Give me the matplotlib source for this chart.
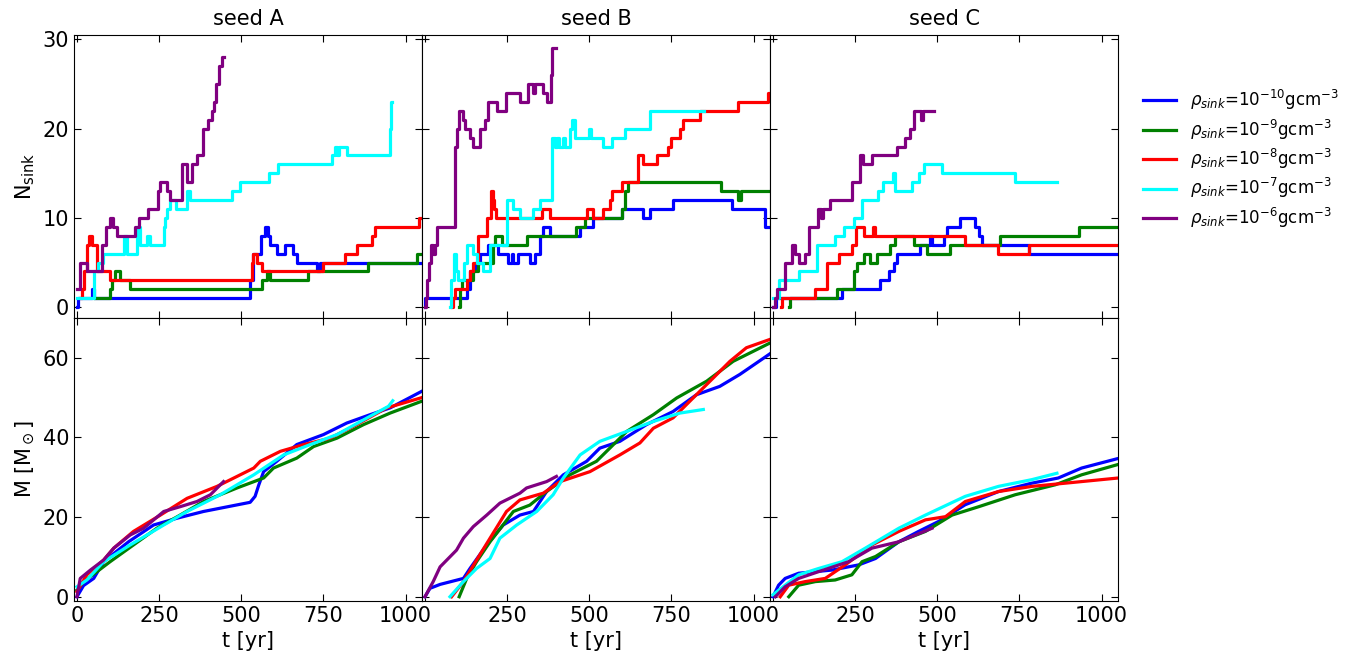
import numpy as np
import matplotlib.pyplot as plt

# number of sink particles vs time, (t [yr], N) pairs, step-wise
nsink_A_10 = [(0, 0), (3, 1), (46, 2), (53, 1), (527, 3), (537, 6), (560, 8), (573, 9), (580, 8), (588, 7),
              (610, 6), (634, 7), (657, 6), (669, 5), (730, 4), (740, 5), (1050, 5)]
nsink_A_9 = [(56, 1), (101, 2), (106, 3), (117, 4), (132, 3), (160, 2), (563, 3), (578, 4), (588, 3), (702, 4),
             (887, 5), (1034, 6), (1050, 6)]
nsink_A_8 = [(10, 1), (14, 2), (20, 4), (32, 7), (38, 8), (46, 7), (61, 4), (99, 3), (532, 5), (537, 6),
             (548, 5), (563, 4), (750, 5), (816, 6), (852, 7), (897, 8), (907, 9), (1042, 10), (1050, 10)]
nsink_A_7 = [(0, 1), (53, 4), (65, 5), (80, 6), (142, 8), (152, 6), (183, 9), (193, 7), (213, 8), (223, 7),
             (264, 9), (269, 10), (274, 11), (284, 12), (302, 11), (335, 13), (345, 12), (472, 13), (497, 14),
             (583, 15), (613, 16), (776, 17), (786, 18), (791, 17), (796, 18), (822, 17), (953, 20), (956, 23),
             (960, 23)]
nsink_A_6 = [(0, 2), (8, 5), (30, 4), (76, 7), (89, 9), (101, 10), (110, 9), (122, 8), (178, 9), (190, 10),
             (216, 11), (248, 13), (254, 14), (274, 13), (284, 12), (320, 16), (335, 14), (350, 16), (365, 17),
             (385, 20), (400, 21), (410, 22), (418, 23), (424, 25), (431, 27), (441, 28), (446, 28)]

nsink_B_10 = [(0, 0), (1, 1), (127, 2), (137, 4), (152, 5), (167, 6), (193, 7), (223, 6), (254, 5), (264, 6),
              (269, 5), (284, 6), (319, 5), (335, 6), (350, 8), (360, 9), (380, 8), (472, 9), (512, 10),
              (598, 11), (664, 10), (685, 11), (755, 12), (933, 11), (1035, 9), (1050, 9)]
nsink_B_9 = [(104, 0), (106, 2), (112, 3), (147, 4), (162, 5), (208, 7), (213, 8), (233, 7), (309, 8), (461, 9),
             (487, 10), (598, 11), (608, 13), (619, 14), (902, 13), (953, 12), (963, 13), (1050, 13)]
nsink_B_8 = [(81, 0), (86, 1), (91, 2), (127, 3), (137, 4), (147, 5), (162, 8), (188, 10), (200, 13), (206, 12),
             (210, 11), (216, 10), (355, 11), (380, 10), (492, 11), (512, 10), (542, 11), (563, 12), (568, 13),
             (598, 14), (649, 17), (664, 16), (705, 17), (740, 18), (750, 19), (776, 20), (786, 21), (837, 22),
             (953, 23), (1045, 24), (1050, 24)]
nsink_B_7 = [(76, 0), (80, 3), (87, 6), (93, 4), (100, 3), (118, 5), (127, 7), (147, 6), (157, 5), (177, 4),
             (198, 7), (250, 12), (269, 11), (289, 10), (330, 11), (350, 12), (385, 19), (395, 18), (401, 19),
             (407, 18), (419, 19), (425, 18), (441, 20), (446, 21), (456, 19), (500, 20), (505, 19), (543, 18),
             (568, 19), (609, 20), (685, 22), (850, 22)]
nsink_B_6 = [(0, 0), (2, 1), (6, 3), (12, 5), (18, 7), (25, 6), (30, 7), (36, 9), (91, 18), (97, 20), (104, 22),
             (115, 21), (122, 20), (137, 19), (147, 18), (167, 20), (182, 21), (193, 23), (218, 22), (246, 24),
             (289, 23), (314, 25), (330, 24), (335, 25), (360, 24), (370, 23), (382, 26), (386, 29), (400, 29)]

nsink_C_10 = [(0, 0), (8, 1), (210, 2), (327, 3), (352, 4), (367, 5), (377, 6), (448, 7), (479, 8), (484, 7),
              (519, 8), (529, 9), (570, 10), (616, 9), (626, 8), (636, 7), (778, 6), (1050, 6)]
nsink_C_9 = [(50, 0), (52, 1), (195, 2), (245, 4), (255, 5), (276, 6), (296, 5), (316, 6), (357, 7), (372, 8),
             (428, 7), (469, 6), (539, 7), (691, 8), (930, 9), (1050, 9)]
nsink_C_8 = [(24, 0), (27, 1), (129, 2), (164, 5), (200, 6), (240, 7), (252, 9), (276, 8), (303, 9), (309, 8),
             (585, 7), (686, 6), (778, 7), (1050, 7)]
nsink_C_7 = [(0, 1), (18, 3), (79, 4), (134, 7), (190, 8), (215, 9), (246, 10), (271, 12), (321, 13), (336, 14),
             (365, 15), (372, 13), (423, 14), (443, 15), (458, 16), (514, 15), (737, 14), (864, 14)]
nsink_C_6 = [(0, 0), (5, 1), (12, 2), (38, 5), (58, 7), (66, 6), (78, 5), (96, 6), (110, 9), (137, 11),
             (146, 10), (152, 11), (174, 12), (240, 14), (266, 17), (275, 16), (301, 17), (377, 18), (403, 19),
             (418, 20), (428, 22), (451, 21), (456, 22), (489, 22)]

# total sink mass vs time, (t [yr], M [Msun]) pairs
mass_A_10 = [(0, 0), (20, 2.8), (51, 4.6), (81, 8.8), (157, 13.8), (233, 18), (304, 19.7), (385, 21.4),
             (527, 23.7), (542, 25.2), (553, 28), (568, 31.4), (608, 34), (669, 38.2), (750, 40.7), (821, 43.6),
             (892, 45.7), (953, 47.4), (1050, 51.6)]
mass_A_9 = [(0, 1.7), (20, 3.8), (61, 6.3), (101, 8.8), (172, 13), (243, 17.2), (314, 20.5), (385, 23.9),
            (487, 27.3), (568, 29.8), (598, 32.3), (669, 34.8), (720, 37.7), (791, 39.8), (872, 43.2),
            (953, 46.1), (1050, 49.1)]
mass_A_8 = [(0, 1.3), (30, 5.5), (81, 9.2), (112, 12.2), (172, 16.4), (254, 20.5), (335, 24.7), (426, 27.7),
            (487, 30.2), (538, 32.3), (558, 34), (619, 36.5), (690, 38.2), (770, 39.8), (842, 42.8), (943, 47.4),
            (1050, 50)]
mass_A_7 = [(0, 2.5), (30, 4.2), (81, 8.8), (162, 13), (264, 18), (335, 21.4), (436, 25.6), (538, 30.6),
            (629, 35.6), (710, 38.2), (791, 40.7), (892, 45.3), (948, 47.8), (961, 49.2)]
mass_A_6 = [(0, 0), (10, 4.6), (41, 6.7), (81, 9.2), (112, 12.2), (162, 15.5), (203, 17.2), (264, 21.4),
            (314, 22.6), (365, 23.9), (406, 25.6), (446, 28.9)]

mass_B_10 = [(0, 0), (15, 2.1), (46, 3.1), (117, 4.6), (137, 7.1), (188, 13), (238, 18), (289, 20.5),
             (330, 21.4), (370, 26.4), (421, 30.6), (492, 34), (532, 37.3), (593, 39), (674, 43.2),
             (755, 46.5), (826, 50.7), (897, 52.8), (958, 55.8), (1050, 61)]
mass_B_9 = [(104, 0), (127, 4.6), (157, 8.8), (198, 13.8), (269, 21.4), (319, 23), (370, 26.4), (441, 30.6),
            (522, 34), (614, 41.5), (695, 45.7), (766, 49.9), (857, 54.1), (938, 59.1), (1050, 63.7)]
mass_B_8 = [(81, 0), (117, 3.8), (157, 9.2), (198, 14.7), (248, 21.4), (289, 24.3), (360, 26), (411, 28.9),
            (502, 31.4), (593, 35.6), (654, 38.6), (695, 42.3), (755, 44.9), (816, 49.9), (877, 54.9),
            (928, 59.1), (978, 62.5), (1050, 64.6)]
mass_B_7 = [(76, 0), (117, 3.8), (157, 7.1), (198, 9.6), (228, 14.7), (279, 18), (340, 21.4), (390, 25.6),
            (421, 29.8), (472, 35.6), (532, 39), (614, 41.5), (695, 44), (776, 46.1), (847, 47)]
mass_B_6 = [(0, 0), (25, 3.8), (46, 7.5), (96, 11.7), (117, 14.7), (147, 17.6), (188, 20.5), (228, 23.5),
            (289, 26), (309, 27.3), (370, 28.9), (400, 30.2)]

mass_C_10 = [(0, 0), (17, 2.9), (37, 4.6), (78, 5.9), (129, 6.3), (180, 6.7), (261, 8), (312, 9.6),
             (383, 13.8), (443, 16.4), (504, 18.9), (585, 23.1), (686, 26.4), (787, 28.5), (868, 29.8),
             (939, 32.3), (1050, 34.7)]
mass_C_9 = [(48, 0), (78, 2.9), (129, 3.8), (189, 4.2), (240, 5.5), (271, 8.8), (312, 10.1), (383, 13.8),
            (464, 16.4), (545, 20.5), (626, 22.6), (737, 25.6), (859, 28.1), (939, 30.6), (1050, 33.2)]
mass_C_8 = [(22, 0), (48, 2.9), (98, 3.8), (159, 4.6), (220, 8), (301, 13), (383, 16.4), (464, 19.3),
            (525, 20.1), (585, 23.9), (686, 26.4), (788, 27.7), (889, 28.5), (1050, 29.8)]
mass_C_7 = [(0, 0.5), (37, 2.9), (78, 5.5), (139, 7.1), (210, 8.8), (281, 12.2), (383, 17.2), (464, 20.5),
            (585, 25.2), (686, 27.7), (788, 29.4), (864, 31)]
mass_C_6 = [(7, 0), (37, 2.5), (78, 4.6), (139, 6.3), (230, 8.8), (301, 12.2), (383, 13.8), (484, 17.2)]

seeds = ['A', 'B', 'C']
exponents = [-10, -9, -8, -7, -6]
colors = ['blue', 'green', 'red', 'cyan', 'purple']

nsink = {
    'A': [nsink_A_10, nsink_A_9, nsink_A_8, nsink_A_7, nsink_A_6],
    'B': [nsink_B_10, nsink_B_9, nsink_B_8, nsink_B_7, nsink_B_6],
    'C': [nsink_C_10, nsink_C_9, nsink_C_8, nsink_C_7, nsink_C_6],
}
mass = {
    'A': [mass_A_10, mass_A_9, mass_A_8, mass_A_7, mass_A_6],
    'B': [mass_B_10, mass_B_9, mass_B_8, mass_B_7, mass_B_6],
    'C': [mass_C_10, mass_C_9, mass_C_8, mass_C_7, mass_C_6],
}

plt.rcParams['font.size'] = 15
fig, axes = plt.subplots(2, 3, figsize=(13.68, 6.64), dpi=100, sharex=True, sharey='row')
fig.subplots_adjust(left=0.0541, right=0.8173, top=0.9473, bottom=0.0953, wspace=0, hspace=0)

lines = []
for j, s in enumerate(seeds):
    ax_n = axes[0, j]
    ax_m = axes[1, j]
    for k in range(5):
        d = np.array(nsink[s][k])
        ln, = ax_n.plot(d[:, 0], d[:, 1], drawstyle='steps-post', color=colors[k], lw=2.3,
                        label=r'$\rho_{sink}$=10$^{%d}$gcm$^{-3}$' % exponents[k])
        if j == 0:
            lines.append(ln)
        d = np.array(mass[s][k])
        ax_m.plot(d[:, 0], d[:, 1], color=colors[k], lw=2.3)
    ax_n.set_title('seed ' + s, fontsize=15, pad=7)
    ax_m.set_xlabel('t [yr]')

for ax in axes.flat:
    ax.tick_params(direction='in', top=True, right=True, length=5, labelsize=15)
    ax.set_xlim(-9, 1050)
    ax.set_xticks([0, 250, 500, 750, 1000])

axes[0, 0].set_ylim(-1.2, 30.5)
axes[0, 0].set_yticks([0, 10, 20, 30])
axes[1, 0].set_ylim(-1, 70)
axes[1, 0].set_yticks([0, 20, 40, 60])
axes[0, 0].set_ylabel(r'N$_{\rm sink}$')
axes[1, 0].set_ylabel(r'M [M$_\odot$]')

# first x label of the inner panels collides with the neighbour's 1000
for ax in axes[1, 1:]:
    ax.get_xticklabels()[0].set_visible(False)

fig.legend(handles=lines, loc='upper left', bbox_to_anchor=(0.8245, 0.89), frameon=False, fontsize=12,
           handlelength=2.0, labelspacing=0.32)

plt.savefig('out.png')
